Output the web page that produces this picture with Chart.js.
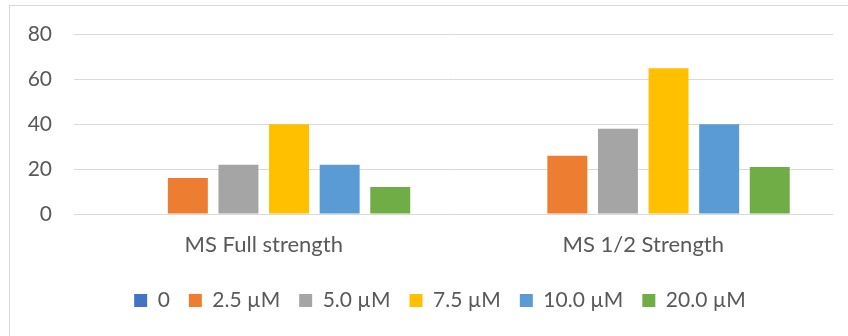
<!DOCTYPE html>
<html>
<head>
<meta charset="utf-8">
<script src="https://cdn.jsdelivr.net/npm/chart.js@4"></script>
<style>
  html, body { margin: 0; padding: 0; background: #fff; overflow: hidden; }
  #wrap { position: relative; width: 848px; height: 336px; }
  #frame { position: absolute; left: 9px; top: 5px; width: 900px; height: 400px; border: 1px solid #d9d9d9; }
  canvas { position: absolute; left: 0; top: 0; }
</style>
</head>
<body>
<div id="wrap">
  <div id="frame"></div>
  <canvas id="chart" width="848" height="336"></canvas>
</div>
<script>
// categories and series
const categories = ["MS Full strength", "MS 1/2 Strength"];
const seriesNames = ["0", "2.5 µM", "5.0 µM", "7.5 µM", "10.0 µM", "20.0 µM"];
const conc0 = [0, 0];
const conc25 = [16, 26];
const conc50 = [22, 38];
const conc75 = [40, 65];
const conc100 = [22, 40];
const conc200 = [12, 21];
const yTicks = [0, 20, 40, 60, 80];

const colors = ["#4472C4", "#ED7D31", "#A5A5A5", "#FFC000", "#5B9BD5", "#70AD47"];
const values = [conc0, conc25, conc50, conc75, conc100, conc200];

const textColor = "#595959";
const fontFamily = "Lato, 'Liberation Sans', sans-serif";

// legend sits a bit right of the canvas centre, like the original
const legendShift = {
  id: "legendShift",
  beforeDraw(chart) {
    chart.legend.left = 47;
  }
};

new Chart(document.getElementById("chart"), {
  type: "bar",
  data: {
    labels: categories,
    datasets: seriesNames.map((name, i) => ({
      label: name,
      data: values[i],
      backgroundColor: colors[i],
      borderWidth: 0,
      barPercentage: 0.79,
      categoryPercentage: 0.8
    }))
  },
  options: {
    responsive: false,
    animation: false,
    layout: { padding: { top: 34, right: 15, left: 0, bottom: 15 } },
    plugins: {
      tooltip: { enabled: false },
      legend: {
        position: "bottom",
        labels: {
          color: textColor,
          font: { family: fontFamily, size: 21 },
          boxWidth: 13,
          boxHeight: 13,
          padding: 19
        }
      }
    },
    scales: {
      x: {
        grid: { display: false },
        border: { display: false },
        ticks: { color: textColor, font: { family: fontFamily, size: 22 }, padding: 10 },
        afterFit: (s) => { s.height = 57; }
      },
      y: {
        min: 0,
        max: 80,
        afterBuildTicks: (s) => { s.ticks = yTicks.map(v => ({ value: v })); },
        grid: { color: "#d9d9d9", lineWidth: 1, drawTicks: false },
        border: { display: false },
        ticks: { color: textColor, font: { family: fontFamily, size: 21 }, padding: 22 },
        afterFit: (s) => { s.width = 74; }
      }
    }
  },
  plugins: [legendShift]
});
</script>
</body>
</html>
